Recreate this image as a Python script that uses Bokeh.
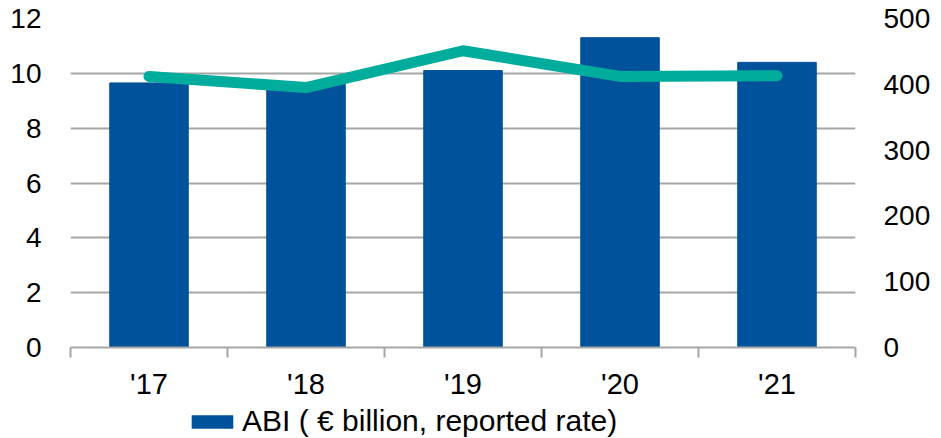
from bokeh.plotting import figure
from bokeh.layouts import column
from bokeh.models import (ColumnDataSource, Range1d, LinearAxis, FixedTicker,
                          Legend, LegendItem)
from bokeh.embed import file_html
from bokeh.resources import INLINE

categories = ["'17", "'18", "'19", "'20", "'21"]
abi_values = [9.65, 9.6, 10.1, 11.3, 10.4]
line_values = [412, 395, 451, 412, 413]
left_ticks = [0, 2, 4, 6, 8, 10, 12]
right_ticks = [0, 100, 200, 300, 400, 500]
legend_label = "ABI ( € billion, reported rate)"

BAR = "#00529B"
LINE = "#00AC9B"
GRID = "#A6A6A6"
FONT = "Liberation Sans"

xs = list(range(len(categories)))
src = ColumnDataSource(dict(x=xs, abi=abi_values, other=line_values))

p = figure(width=941, height=402, output_backend="svg", toolbar_location=None,
           x_range=Range1d(-0.5, len(categories) - 0.5), y_range=Range1d(0, 12),
           min_border_left=70, min_border_right=86, min_border_top=18,
           min_border_bottom=54)
p.outline_line_color = None
p.background_fill_color = "white"
p.border_fill_color = "white"

p.extra_y_ranges = {"right": Range1d(0, 500)}

bars = p.vbar(x="x", top="abi", width=0.5, source=src, fill_color=BAR,
              line_color=BAR)
p.line(x="x", y="other", source=src, y_range_name="right", line_color=LINE,
       line_width=11, line_cap="round", line_join="round")

# left axis
ya = p.yaxis[0]
ya.ticker = FixedTicker(ticks=left_ticks)
ya.axis_line_color = None
ya.major_tick_line_color = None
ya.minor_tick_line_color = None
ya.major_tick_out = 0
ya.major_label_standoff = 29
ya.major_label_text_font = FONT
ya.major_label_text_font_size = "28px"
ya.major_label_text_color = "black"

# right axis
ra = LinearAxis(y_range_name="right", ticker=FixedTicker(ticks=right_ticks))
ra.axis_line_color = None
ra.major_tick_line_color = None
ra.minor_tick_line_color = None
ra.major_tick_out = 0
ra.major_label_standoff = 28
ra.major_label_text_font = FONT
ra.major_label_text_font_size = "28px"
ra.major_label_text_color = "black"
p.add_layout(ra, "right")

# x axis: labels at centers, ticks at category boundaries
boundaries = [i - 0.5 for i in range(len(categories) + 1)]
xa = p.xaxis[0]
xa.ticker = FixedTicker(ticks=xs, minor_ticks=boundaries)
xa.major_label_overrides = {i: c for i, c in enumerate(categories)}
xa.axis_line_color = GRID
xa.axis_line_width = 2
xa.major_tick_line_color = None
xa.major_tick_out = 0
xa.major_tick_in = 0
xa.minor_tick_line_color = GRID
xa.minor_tick_line_width = 2
xa.minor_tick_out = 10
xa.minor_tick_in = 0
xa.major_label_standoff = 10
xa.major_label_text_font = FONT
xa.major_label_text_font_size = "29px"
xa.major_label_text_color = "black"

p.xgrid.grid_line_color = None
p.ygrid.ticker = FixedTicker(ticks=left_ticks)
p.ygrid.grid_line_color = GRID
p.ygrid.grid_line_width = 2

# legend strip below the chart
pl = figure(width=941, height=36, output_backend="svg", toolbar_location=None,
            x_range=Range1d(-0.5, len(categories) - 0.5),
            y_range=Range1d(1000, 1010),
            x_axis_location=None, y_axis_location=None,
            min_border_left=0, min_border_right=0, min_border_top=0,
            min_border_bottom=0)
pl.grid.visible = False
pl.outline_line_color = None
pl.border_fill_color = "white"
legend_bars = pl.vbar(x="x", top="abi", width=0.5, source=src,
                      fill_color=BAR, line_color=None)

legend = Legend(items=[LegendItem(label=legend_label, renderers=[legend_bars])],
                location=(116, 0), padding=0, margin=0,
                border_line_color=None, background_fill_alpha=0,
                glyph_width=52, glyph_height=17, label_height=20,
                label_standoff=4, label_text_font=FONT,
                label_text_font_size="30px", label_text_color="black")
pl.add_layout(legend, "center")

layout = column(p, pl, spacing=0)
open("out.html", "w").write(file_html(layout, INLINE))
